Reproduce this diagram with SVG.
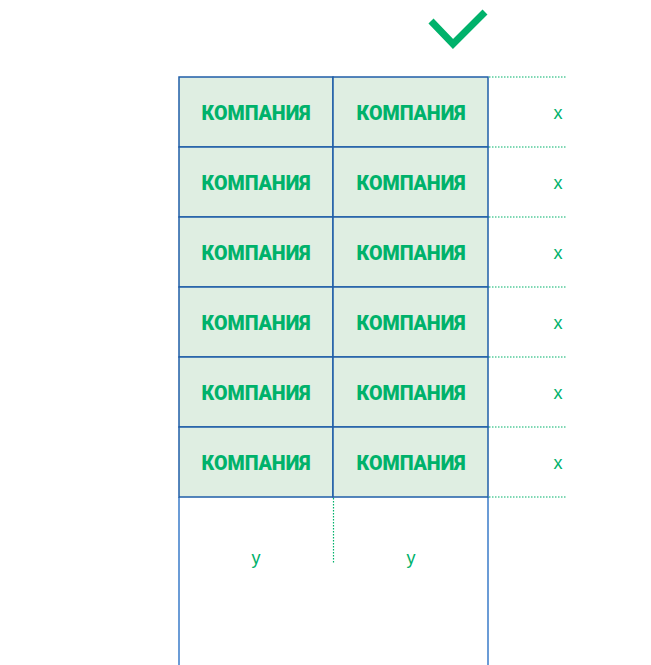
<svg xmlns="http://www.w3.org/2000/svg" width="651" height="665" viewBox="0 0 651 665">
<style>
.cell{fill:#dfeee2;stroke:#1f5ea8;stroke-width:1.5}
.t{font-family:Roboto,"Liberation Sans",sans-serif;font-weight:900;font-size:20px;fill:#00b26b;text-anchor:middle}
.s{font-family:"Liberation Sans",Arial,sans-serif;font-size:18px;fill:#00b26b;text-anchor:middle}
.dot{stroke:#00b26b;stroke-width:1.2;stroke-dasharray:1.5 1.5;fill:none}
.frame{stroke:#3a7bc8;stroke-width:1.5;fill:none}
</style>
<rect width="651" height="665" fill="#fff"/>
<polyline points="431,21 453,44 485,12" fill="none" stroke="#00b26b" stroke-width="7"/>
<g id="connectors">
<line class="dot" x1="489" y1="77" x2="566" y2="77"/>
<line class="dot" x1="489" y1="147" x2="566" y2="147"/>
<line class="dot" x1="489" y1="217" x2="566" y2="217"/>
<line class="dot" x1="489" y1="287" x2="566" y2="287"/>
<line class="dot" x1="489" y1="357" x2="566" y2="357"/>
<line class="dot" x1="489" y1="427" x2="566" y2="427"/>
<line class="dot" x1="489" y1="497" x2="566" y2="497"/>
<line class="dot" x1="333.5" y1="498" x2="333.5" y2="564"/>
<line class="frame" x1="179" y1="497" x2="179" y2="665"/>
<line class="frame" x1="488" y1="497" x2="488" y2="665"/>
</g>
<g id="r1">
<rect class="cell" x="179" y="77" width="154" height="70"/><rect class="cell" x="333" y="77" width="155" height="70"/>
<text class="t" x="256" y="120" textLength="109" lengthAdjust="spacingAndGlyphs">КОМПАНИЯ</text>
<text class="t" x="411" y="120" textLength="109" lengthAdjust="spacingAndGlyphs">КОМПАНИЯ</text>
<text class="s" x="558" y="119">x</text>
</g>
<g id="r2">
<rect class="cell" x="179" y="147" width="154" height="70"/><rect class="cell" x="333" y="147" width="155" height="70"/>
<text class="t" x="256" y="190" textLength="109" lengthAdjust="spacingAndGlyphs">КОМПАНИЯ</text>
<text class="t" x="411" y="190" textLength="109" lengthAdjust="spacingAndGlyphs">КОМПАНИЯ</text>
<text class="s" x="558" y="189">x</text>
</g>
<g id="r3">
<rect class="cell" x="179" y="217" width="154" height="70"/><rect class="cell" x="333" y="217" width="155" height="70"/>
<text class="t" x="256" y="260" textLength="109" lengthAdjust="spacingAndGlyphs">КОМПАНИЯ</text>
<text class="t" x="411" y="260" textLength="109" lengthAdjust="spacingAndGlyphs">КОМПАНИЯ</text>
<text class="s" x="558" y="259">x</text>
</g>
<g id="r4">
<rect class="cell" x="179" y="287" width="154" height="70"/><rect class="cell" x="333" y="287" width="155" height="70"/>
<text class="t" x="256" y="330" textLength="109" lengthAdjust="spacingAndGlyphs">КОМПАНИЯ</text>
<text class="t" x="411" y="330" textLength="109" lengthAdjust="spacingAndGlyphs">КОМПАНИЯ</text>
<text class="s" x="558" y="329">x</text>
</g>
<g id="r5">
<rect class="cell" x="179" y="357" width="154" height="70"/><rect class="cell" x="333" y="357" width="155" height="70"/>
<text class="t" x="256" y="400" textLength="109" lengthAdjust="spacingAndGlyphs">КОМПАНИЯ</text>
<text class="t" x="411" y="400" textLength="109" lengthAdjust="spacingAndGlyphs">КОМПАНИЯ</text>
<text class="s" x="558" y="399">x</text>
</g>
<g id="r6">
<rect class="cell" x="179" y="427" width="154" height="70"/><rect class="cell" x="333" y="427" width="155" height="70"/>
<text class="t" x="256" y="470" textLength="109" lengthAdjust="spacingAndGlyphs">КОМПАНИЯ</text>
<text class="t" x="411" y="470" textLength="109" lengthAdjust="spacingAndGlyphs">КОМПАНИЯ</text>
<text class="s" x="558" y="469">x</text>
</g>
<g id="ylabels">
<text class="s" x="256" y="564">y</text>
<text class="s" x="411" y="564">y</text>
</g>
</svg>
